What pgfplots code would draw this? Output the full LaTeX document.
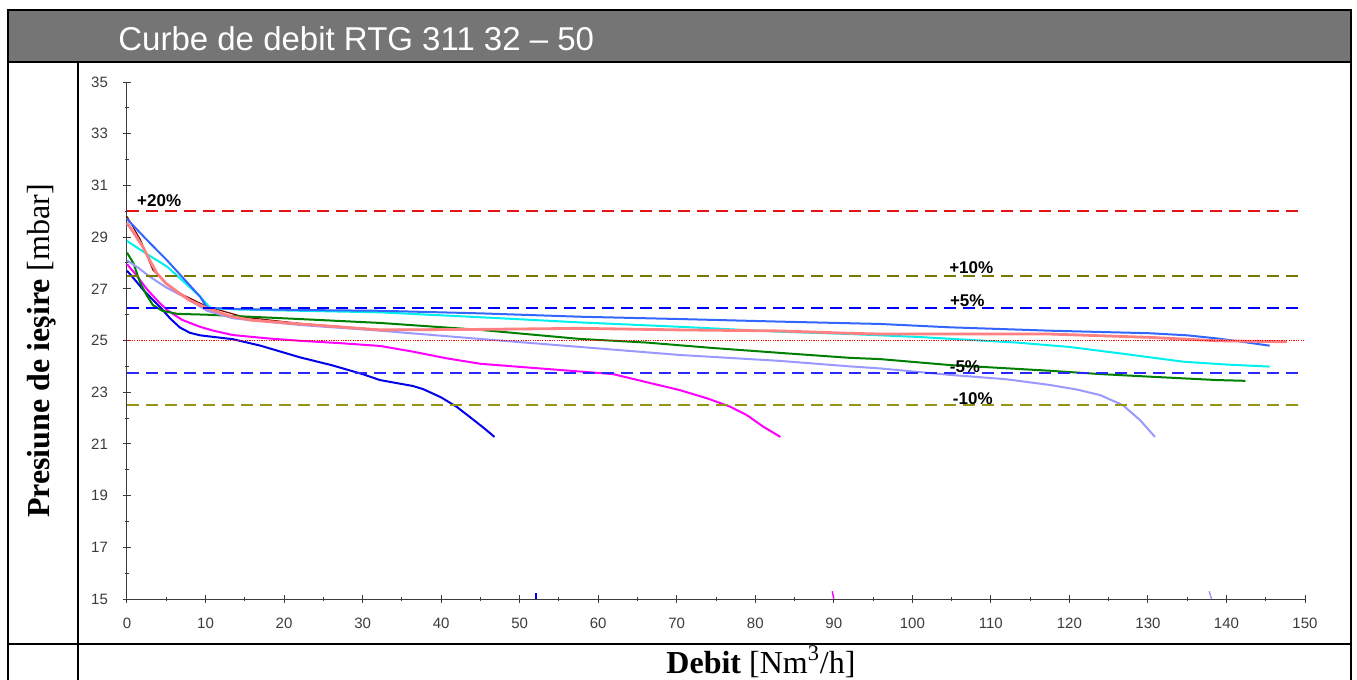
\documentclass[border=0pt]{standalone}
\usepackage{pgfplots}
\pgfplotsset{compat=1.18}
\usepackage{fontspec}
\setmainfont{Liberation Serif}
\newfontfamily\arial{Liberation Sans}
\definecolor{hdr}{RGB}{117,117,117}
\definecolor{cdblue}{RGB}{0,0,235}
\definecolor{cmag}{RGB}{255,0,255}
\definecolor{cgreen}{RGB}{0,128,0}
\definecolor{clav}{RGB}{153,153,255}
\definecolor{ccyan}{RGB}{0,240,240}
\definecolor{croyal}{RGB}{51,102,255}
\definecolor{csalmon}{RGB}{255,128,128}
\definecolor{cdred}{RGB}{128,0,0}
\definecolor{lineTwenty}{RGB}{225,20,20}
\definecolor{rolive}{RGB}{120,120,0}
\definecolor{rolive2}{RGB}{150,150,20}
\definecolor{rblue}{RGB}{0,0,255}
\definecolor{rblue2}{RGB}{40,40,255}
\definecolor{rdot}{RGB}{255,0,0}
\definecolor{tickgray}{RGB}{60,60,60}

\pgfplotstableread{
x y
0 27.7
1 27.35
2.1 26.95
3.2 26.6
4.2 26.3
5.5 25.85
6.75 25.5
8 25.3
9.3 25.2
13.5 25.05
17 24.8
22 24.35
26 24.05
30 23.7
32.2 23.47
36.4 23.24
37.7 23.12
40 22.8
42 22.43
44 21.96
45.5 21.6
46.8 21.27
}\tdblue

\pgfplotstableread{
x y
0 27.95
1 27.6
2.5 27.0
4 26.5
5.1 26.18
7 25.8
9.3 25.53
11 25.38
13.5 25.21
18 25.08
22 24.99
27 24.9
32.2 24.79
36.4 24.57
40.7 24.31
45 24.1
50 23.98
57.7 23.8
61.9 23.7
66 23.4
70.4 23.08
74 22.75
76.8 22.44
79 22.1
81 21.67
83.2 21.27
}\tmag

\pgfplotstableread{
x y
0 28.4
0.8 28.0
1.7 27.22
2.5 26.75
3.3 26.37
4.5 26.15
6.4 26.03
10 26.0
13.5 25.95
22 25.83
32.2 25.68
45 25.41
57.7 25.06
66.2 24.92
74.6 24.71
83.2 24.52
92 24.33
95.9 24.28
104.8 24.05
117.5 23.83
124 23.7
130.3 23.6
138.8 23.47
142.4 23.44
}\tgreen

\pgfplotstableread{
x y
0 28.1
1.5 27.8
2.9 27.47
5 27.05
7.2 26.7
10.2 26.15
13.5 25.86
22 25.6
32.2 25.38
45 25.06
57.7 24.75
70.4 24.44
83.2 24.21
92 24.0
95.9 23.92
104.8 23.67
112 23.5
117.5 23.28
121 23.1
123.9 22.89
126.8 22.5
129 21.92
130.9 21.27
}\tlav

\pgfplotstableread{
x y
0 28.85
2.5 28.35
5.1 27.86
7.5 27.2
9.3 26.7
10.6 26.26
14 26.2
22 26.15
32.2 26.09
45 25.9
57.7 25.7
70.4 25.53
83.2 25.34
92 25.25
100.6 25.14
113.3 24.92
120 24.75
126 24.52
134.5 24.18
140 24.07
145.5 23.99
}\tcyan

\pgfplotstableread{
x y
0 29.7
2.5 28.9
5.1 28.1
7.5 27.3
9.3 26.7
10.2 26.26
14 26.22
22 26.18
32.2 26.15
45 26.05
57.7 25.92
70.4 25.83
83.2 25.73
95.9 25.64
104.8 25.51
117.5 25.38
130.3 25.28
135 25.2
138.8 25.08
142 24.95
145.5 24.8
}\troyal

\pgfplotstableread{
x y
0 29.55
1 29.1
2 28.63
3 28.05
3.8 27.6
5 27.2
6.4 26.89
8 26.55
10.2 26.25
13 25.95
15.7 25.79
22 25.64
32.2 25.41
45 25.43
57.7 25.47
70.4 25.41
83.2 25.37
92 25.28
95.9 25.25
117.5 25.25
130.3 25.12
138.8 24.99
147.7 24.95
}\tsalmon

\pgfplotstableread{
x y
0 29.8
1.7 28.9
3.3 27.73
5.9 26.95
10.2 26.31
15 25.9
22 25.66
32.2 25.42
45 25.43
57.7 25.46
70.4 25.41
83.2 25.37
92 25.28
95.9 25.25
117.5 25.25
130.3 25.12
138.8 24.99
}\tdred

\begin{document}
\begin{tikzpicture}
\begin{scope}[x=0.5pt,y=-0.5pt]
\useasboundingbox (0,0) rectangle (1357,680);
\fill[hdr] (8,10) rectangle (1351,62);
\draw[line width=1.3pt] (8,680) -- (8,10) -- (1351,10) -- (1351,680);
\draw[line width=1.3pt] (8,62) -- (1351,62);
\draw[line width=1.3pt] (78,62) -- (78,680);
\draw[line width=1.3pt] (8,644) -- (1351,644);
\node[anchor=base west, text=white, inner sep=0pt, font=\arial\fontsize{16.5}{18}\selectfont] at (118,50) {Curbe de debit RTG 311 32 – 50};
\node[rotate=90, inner sep=0pt, font=\fontsize{16}{18}\selectfont] at (42,351) {\textbf{Presiune de ieşire} [mbar]};
\node[anchor=base, inner sep=0pt, font=\fontsize{16}{18}\selectfont] at (761,673) {\textbf{Debit} [Nm\textsuperscript{3}/h]};
\end{scope}
\begin{axis}[
  at={(63.5pt,-299.5pt)}, anchor=south west,
  scale only axis, width=589pt, height=258.5pt,
  xmin=0, xmax=150, ymin=15, ymax=35,
  axis x line=bottom, axis y line=left,
  axis line style={-, color=tickgray, line width=0.5pt},
  xtick={0,10,...,150}, ytick={15,17,...,35},
  minor x tick num=1, minor y tick num=1,
  tick align=center,
  major tick length=4pt, minor tick length=2pt,
  tick style={color=tickgray, line width=0.5pt},
  /pgf/number format/assume math mode=true,
  ticklabel style={font=\arial\fontsize{7.5}{8}\selectfont, text=tickgray},
  xticklabel style={yshift=-4pt},
  yticklabel style={xshift=-4pt},
  clip=false,
]
\addplot[cdred, line width=0.6pt] table {\tdred};
\addplot[cdblue, line width=1pt] table {\tdblue};
\addplot[cmag, line width=1pt] table {\tmag};
\addplot[cgreen, line width=1pt] table {\tgreen};
\addplot[clav, line width=1pt] table {\tlav};
\addplot[ccyan, line width=1pt] table {\tcyan};
\addplot[croyal, line width=1pt] table {\troyal};
\addplot[csalmon, line width=1.4pt] table {\tsalmon};
% reference lines
\addplot[draw=lineTwenty, line width=0.8pt, dash pattern=on 6pt off 3.5pt] coordinates {(0,30) (150,30)};
\addplot[draw=rolive, line width=0.7pt, dash pattern=on 6pt off 3.5pt] coordinates {(0,27.5) (150,27.5)};
\addplot[draw=rblue, line width=0.7pt, dash pattern=on 6pt off 3.5pt] coordinates {(0,26.25) (150,26.25)};
\addplot[draw=rdot, line width=0.6pt, dash pattern=on 0.6pt off 0.6pt] coordinates {(0,25) (150,25)};
\addplot[draw=rblue2, line width=0.7pt, dash pattern=on 6pt off 3.5pt] coordinates {(0,23.75) (150,23.75)};
\addplot[draw=rolive2, line width=0.7pt, dash pattern=on 6pt off 3.5pt] coordinates {(0,22.5) (150,22.5)};
% small marks at the bottom
\addplot[cdblue, line width=0.7pt] coordinates {(52.1,15) (52.1,15.25)};
\addplot[cmag, line width=0.7pt] coordinates {(89.8,15.3) (90,15)};
\addplot[clav, line width=0.7pt] coordinates {(137.8,15.3) (138.1,15)};
\begin{scope}[font=\arial\bfseries\fontsize{8.5}{10}\selectfont]
\node at (axis cs:4.1,30.4) {+20\%};
\node at (axis cs:107.5,27.8) {+10\%};
\node at (axis cs:107.0,26.53) {+5\%};
\node at (axis cs:106.7,23.97) {-5\%};
\node at (axis cs:107.7,22.74) {-10\%};
\end{scope}
\end{axis}
\end{tikzpicture}
\end{document}
